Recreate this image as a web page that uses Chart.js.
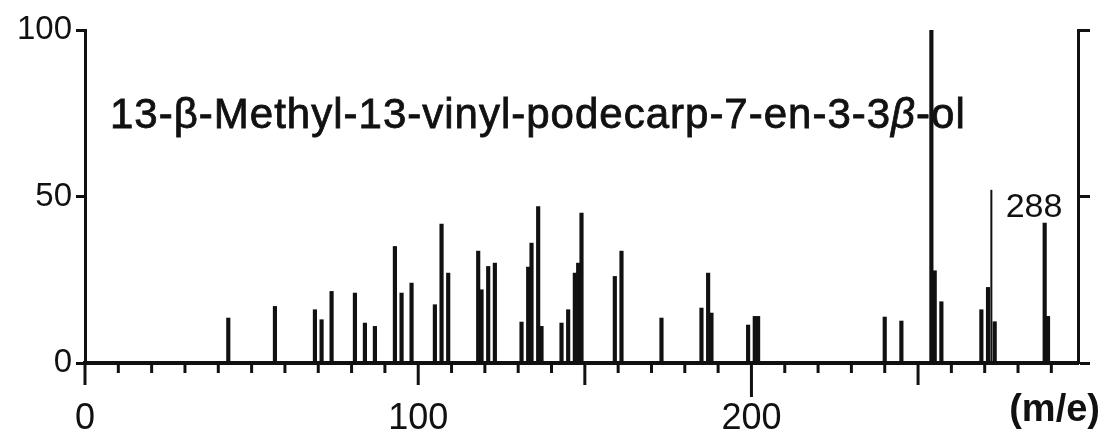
<!DOCTYPE html>
<html>
<head>
<meta charset="utf-8">
<script src="https://cdn.jsdelivr.net/npm/chart.js@4.4.0/dist/chart.umd.min.js"></script>
<style>
  html, body { margin: 0; padding: 0; background: #fff; }
  #wrap { width: 1109px; height: 432px; }
</style>
</head>
<body>
<div id="wrap"><canvas id="spectrum" width="1109" height="432"></canvas></div>
<script>
// Fragment peaks: m/e and relative intensity (%)
const massValues = [43, 57, 69, 71, 74, 81, 84, 87, 93, 95, 98, 105, 107, 109,
    118, 119, 121, 123, 131, 133, 134, 136, 137, 143, 145, 147, 148, 149,
    159, 161, 173, 185, 187, 188, 199, 201, 202, 240, 245, 254, 255, 257,
    269, 271, 273, 288, 289];
const intensities = [13.5, 17, 16, 13, 21.5, 21, 12, 11, 35, 21, 24, 17.5, 41.7, 27,
    33.6, 22, 29, 30, 12.3, 28.8, 36, 47, 11, 12, 16, 27, 30, 45,
    26, 33.6, 13.5, 16.5, 27, 15, 11.4, 14, 14, 13.8, 12.6, 100, 27.7, 18.4,
    16, 22.7, 12.4, 42, 14];

// axis labelling
const xLabels = [0, 100, 200];
const xLongTicks = [0, 100, 150, 200, 250];
const yTicks = [0, 50, 100];

// scale-change marker next to the molecular ion
const breakMass = 272;
const breakHeight = 52;

const compoundName = '13-\u03b2-Methyl-13-vinyl-podecarp-7-en-3-3';
const molecularIon = 288;

const INK = '#111';
const FONT = '"Liberation Sans", Arial, sans-serif';

function inkText(ctx, text, x, y) {
    // slightly heavier than the regular face
    ctx.fillText(text, x, y);
    ctx.strokeText(text, x, y);
}

const spectrumDecor = {
    id: 'spectrumDecor',
    beforeDatasetsDraw(chart) {
        const { ctx, scales: { x, y } } = chart;
        // compound name sits inside the plot, behind the peaks
        ctx.save();
        ctx.fillStyle = INK;
        ctx.strokeStyle = INK;
        ctx.lineWidth = 0.8;
        ctx.textBaseline = 'alphabetic';
        ctx.textAlign = 'left';
        ctx.letterSpacing = '1px';
        ctx.font = `42px ${FONT}`;
        let px = x.getPixelForValue(7.5);
        const py = y.getPixelForValue(70.6);
        inkText(ctx, compoundName, px, py);
        px += ctx.measureText(compoundName).width;
        ctx.font = `italic 42px ${FONT}`;
        inkText(ctx, '\u03b2', px, py);
        px += ctx.measureText('\u03b2').width;
        ctx.font = `42px ${FONT}`;
        inkText(ctx, '-ol', px, py);
        ctx.restore();
    },
    afterDraw(chart) {
        const { ctx, scales: { x, y } } = chart;
        const base = y.getPixelForValue(0);
        ctx.save();
        ctx.strokeStyle = INK;
        ctx.lineWidth = 3;
        // x tick marks hang below the baseline, longer ones at the major values
        x.ticks.forEach(t => {
            if (t.value > 290) return;
            const tx = x.getPixelForValue(t.value);
            let len = 10;
            if (xLongTicks.includes(t.value)) len = t.value === 200 ? 34 : 22;
            ctx.beginPath();
            ctx.moveTo(tx, base);
            ctx.lineTo(tx, base + len);
            ctx.stroke();
        });

        // break marker
        const bx = x.getPixelForValue(breakMass);
        ctx.lineWidth = 2;
        ctx.beginPath();
        ctx.moveTo(bx, base);
        ctx.lineTo(bx, y.getPixelForValue(breakHeight));
        ctx.stroke();

        ctx.fillStyle = INK;
        ctx.font = `34px ${FONT}`;
        ctx.textAlign = 'left';
        ctx.fillText(String(molecularIon), x.getPixelForValue(276.3), y.getPixelForValue(43.8));

        ctx.font = `bold 38px ${FONT}`;
        ctx.textAlign = 'right';
        ctx.fillText('(m/e)', x.right + 22, base + 58);
        ctx.restore();
    }
};

const ctx = document.getElementById('spectrum').getContext('2d');
const chart = new Chart(ctx, {
    type: 'bar',
    data: {
        datasets: [{
            data: massValues.map((m, i) => ({ x: m, y: intensities[i] })),
            backgroundColor: INK,
            borderWidth: 0,
            barThickness: 3.5,
            grouped: false,
            yAxisID: 'y'
        }]
    },
    options: {
        responsive: false,
        animation: false,
        layout: { padding: { top: 30, left: 0, right: 0, bottom: 0 } },
        plugins: {
            legend: { display: false },
            tooltip: { enabled: false }
        },
        scales: {
            x: {
                type: 'linear',
                offset: false,
                min: 0,
                max: 298,
                afterFit: s => { s.height = 69; },
                grid: { display: false, offset: false },
                border: { display: true, width: 4, color: INK },
                ticks: {
                    stepSize: 10,
                    includeBounds: false,
                    autoSkip: false,
                    maxRotation: 0,
                    padding: 26,
                    color: INK,
                    font: { family: FONT, size: 36 },
                    callback: v => xLabels.includes(v) ? String(v) : ''
                }
            },
            y: {
                position: 'left',
                min: 0,
                max: 100,
                afterFit: s => { s.width = 85; },
                afterBuildTicks: s => { s.ticks = yTicks.map(v => ({ value: v })); },
                grid: { drawOnChartArea: false, tickLength: 9, tickWidth: 3, tickColor: INK },
                border: { display: true, width: 3, color: INK },
                ticks: {
                    padding: 4,
                    color: INK,
                    font: { family: FONT, size: 33 }
                }
            },
            y2: {
                position: 'right',
                min: 0,
                max: 100,
                afterFit: s => { s.width = 31; },
                afterBuildTicks: s => { s.ticks = yTicks.map(v => ({ value: v })); },
                grid: { drawOnChartArea: false, tickLength: 12, tickWidth: 3, tickColor: INK },
                border: { display: true, width: 3, color: INK },
                ticks: { callback: () => '' }
            }
        }
    },
    plugins: [spectrumDecor]
});
</script>
</body>
</html>
